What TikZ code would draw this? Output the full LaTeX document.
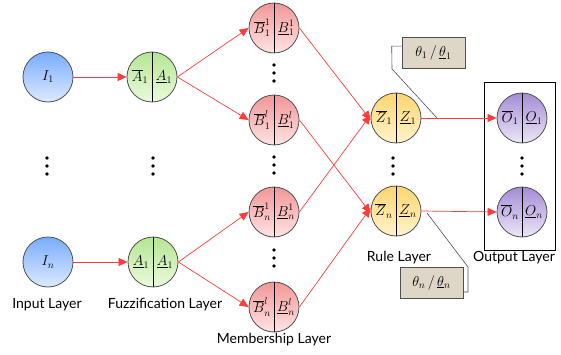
\documentclass[tikz,border=0pt]{standalone}
\usepackage{fontspec}
\setmainfont{Lato}
\usetikzlibrary{arrows.meta,shadings}
\definecolor{arr}{RGB}{255,60,60}
\definecolor{edge}{RGB}{80,80,80}
\definecolor{thetafill}{RGB}{222,214,198}
\tikzset{
  neuron/.style={circle,draw=edge,line width=0.8pt,minimum size=50pt,inner sep=0pt,font=\fontsize{14.4}{16}\selectfont},
  split/.style={neuron,path picture={\draw[black,line width=0.7pt] (path picture bounding box.north) -- (path picture bounding box.south);}},
  inp/.style={neuron,top color={rgb,255:red,120;green,172;blue,255},bottom color={rgb,255:red,222;green,234;blue,255}},
  fuz/.style={split,top color={rgb,255:red,180;green,230;blue,145},bottom color={rgb,255:red,236;green,250;blue,222}},
  mem/.style={split,top color={rgb,255:red,242;green,150;blue,150},bottom color={rgb,255:red,255;green,228;blue,228}},
  rul/.style={split,top color={rgb,255:red,255;green,214;blue,110},bottom color={rgb,255:red,255;green,243;blue,205}},
  outn/.style={split,top color={rgb,255:red,165;green,140;blue,215},bottom color={rgb,255:red,236;green,230;blue,246}},
  half/.style={inner sep=0pt,font=\fontsize{14.4}{16}\selectfont},
  conn/.style={draw=arr,line width=0.7pt,-{Triangle[length=9pt,width=8pt]}},
  vdot/.style={circle,fill=black,inner sep=0pt,minimum size=3.6pt},
  lbl/.style={font=\fontsize{14}{16}\selectfont},
  thetabox/.style={draw=edge,fill=thetafill,line width=0.6pt,minimum width=63pt,minimum height=31pt,inner sep=0pt,font=\fontsize{14.4}{16}\selectfont},
  callout/.style={draw=edge,line width=0.6pt}
}
\newcommand{\halves}[3]{%
  \node[half] (#1l) at ([xshift=-12pt]#1.center) {#2};
  \node[half] (#1r) at ([xshift=12pt]#1.center) {#3};}
\begin{document}
\begin{tikzpicture}[x=1pt,y=-1pt]
\useasboundingbox (0,0) rectangle (561,355);
% input
\node[inp] (I1) at (48,77) {$I_1$};
\node[inp] (In) at (48,262) {$I_n$};
% fuzzification
\node[fuz] (A1) at (152,77) {}; \halves{A1}{$\overline{A}_1$}{$\underline{A}_1$}
\node[fuz] (An) at (153,262) {}; \halves{An}{$\underline{A}_1$}{$\underline{A}_1$}
% membership
\node[mem] (B11) at (274,28) {}; \halves{B11}{$\overline{B}_1^1$}{$\underline{B}_1^1$}
\node[mem] (B1L) at (274,120) {}; \halves{B1L}{$\overline{B}_1^l$}{$\underline{B}_1^l$}
\node[mem] (Bn1) at (274,212) {}; \halves{Bn1}{$\overline{B}_n^1$}{$\underline{B}_n^1$}
\node[mem] (BnL) at (274,307) {}; \halves{BnL}{$\overline{B}_n^l$}{$\underline{B}_n^l$}
% rule
\node[rul] (Z1) at (396,118) {}; \halves{Z1}{$\overline{Z}_1$}{$\underline{Z}_1$}
\node[rul] (Zn) at (396,211) {}; \halves{Zn}{$\overline{Z}_n$}{$\underline{Z}_n$}
% output
\node[draw=black,line width=0.6pt,minimum width=71pt,minimum height=168pt,inner sep=0pt] (obox) at (519.5,166) {};
\node[outn] (O1) at (522,118) {}; \halves{O1}{$\overline{O}_1$}{$\underline{O}_1$}
\node[outn] (On) at (522,212) {}; \halves{On}{$\overline{O}_n$}{$\underline{O}_n$}
% dots
\foreach \x/\n in {47/a,153/b,393/c,522/d}{
  \foreach \y/\m in {158/1,166/2,174/3}{\node[vdot] (d\n\m) at (\x,\y) {};}}
\foreach \y/\m in {65/1,73/2,81/3,157/4,165/5,173/6,250/7,258/8,266/9}{\node[vdot] (dm\m) at (274,\y) {};}
% connectors
\draw[conn] (I1.east) -- (A1.west);
\draw[conn] (In.east) -- (An.west);
\draw[conn] (A1.east) -- (B11.west);
\draw[conn] (A1.east) -- (B1L.west);
\draw[conn] (An.east) -- (Bn1.west);
\draw[conn] (An.east) -- (BnL.west);
\draw[conn] (B11.east) -- ([yshift=-2pt]Z1.west);
\draw[conn] (Bn1.east) -- ([yshift=3pt]Z1.west);
\draw[conn] (B1L.east) -- ([yshift=-2pt]Zn.west);
\draw[conn] (BnL.east) -- ([yshift=3pt]Zn.west);
\draw[conn] (Z1.east) -- (O1.west);
\draw[conn] (Zn.east) -- (On.west);
% theta boxes
\node[thetabox] (t1) at (433.5,53) {$\theta_1\,/\,\underline{\theta}_1$};
\node[thetabox] (tn) at (431.5,282.5) {$\theta_n\,/\,\underline{\theta}_n$};
\coordinate (c1) at (437,118);
\coordinate (cn) at (427,213);
\draw[callout] ([yshift=-9pt]t1.north west) -- ++(-10,0) -- (392,69) -- (c1);
\draw[callout] (cn) -- (468,267) -- (468,292) -- ([yshift=-9.5pt]tn.east);
% labels
\node[lbl] (L1) at (47,305) {Input Layer};
\node[lbl] (L2) at (165,305) {Fuzzification Layer};
\node[lbl] (L3) at (274,340) {Membership Layer};
\node[lbl] (L4) at (399,258) {Rule Layer};
\node[lbl] (L5) at (514,258) {Output Layer};
\end{tikzpicture}
\end{document}
